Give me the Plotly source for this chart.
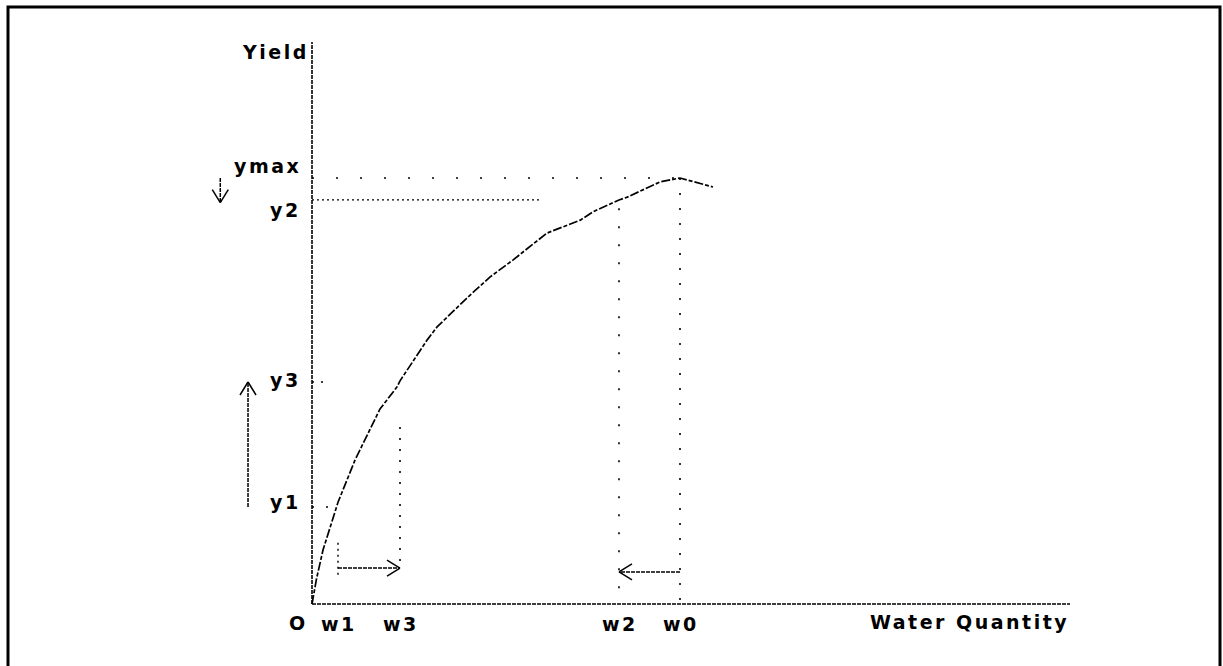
import math
import plotly.graph_objects as go

# ---------------- data (conceptual units: 0..100 on both axes) ----------------
curve_x = [0.0, 0.6, 1.45, 3.43, 5.67, 8.97, 11.2, 11.61, 15.2, 16.5, 20.4, 23.5,
           26.5, 31.0, 35.4, 37.1, 40.5, 41.6, 45.9, 48.55, 52.9]
curve_y = [0.0, 4.5, 9.6, 18.1, 25.6, 34.7, 38.6, 39.7, 47.0, 49.3, 54.4, 58.2,
           61.2, 66.0, 68.3, 69.8, 71.9, 72.4, 75.1, 75.8, 74.2]

x_tick_labels = ["w1", "w3", "w2", "w0"]
x_tick_values = [3.43, 11.61, 40.5, 48.55]
y_tick_labels = ["ymax", "y2", "y3", "y1"]
y_tick_values = [75.8, 71.9, 39.5, 17.26]

origin_label = "O"
x_title = "Water Quantity"
y_title = "Yield"
axis_max = [100.0, 100.0]

w1, w3, w2, w0 = x_tick_values
ymax, y2, y3, y1 = y_tick_values

# ---------------- layout / style constants ----------------
W, H = 1223, 666
OX, OY = 312, 604          # origin pixel
SX, SY = 7.58, 5.62        # pixels per unit
XR = [-OX / SX, (W - OX) / SX]
YR = [(OY - H) / SY, OY / SY]
FONT = dict(family="DejaVu Sans, Liberation Sans, Arial, sans-serif", size=19,
            color="black", weight="bold")
LS = "letter-spacing:2.5px"

fig = go.Figure()

def seg(xs, ys, dash, width=1.4, color="black"):
    fig.add_trace(go.Scatter(x=xs, y=ys, mode="lines", hoverinfo="skip",
                             line=dict(color=color, width=width, dash=dash),
                             showlegend=False))

# axes
seg([0, 0], [0, axis_max[1]], "4px,1px", 1.6)
seg([0, axis_max[0]], [0, 0], "4px,1px", 1.6)

# reference lines
seg([0, w0], [ymax, ymax], "2px,22px", 1.6)
seg([0, 30.0], [y2, y2], "2px,3px", 1.4)
seg([w0, w0], [ymax, 0], "2px,13px", 1.6)
seg([w2, w2], [y2 - 1.5, 0], "2px,16px", 1.6)
seg([w3, w3], [31.5, 7.0], "2px,9px", 1.6)
seg([w1, w1], [10.9, 4.6], "2px,4px", 1.4)
seg([0, 1.6], [y3, y3], "2px,7px", 1.4)
seg([0, 2.5], [y1, y1], "2px,12px", 1.4)

# curve
seg(curve_x, curve_y, "9px,2px,4px,2px", 1.7)

# arrows: (x_from, y_from, x_to, y_to)
arrows = [
    (w1, 6.4, w3, 6.4),
    (w0, 5.7, w2, 5.7),
    (-8.44, y1, -8.44, y3),
    (-12.1, ymax, -12.1, y2 - 0.5),
]
for (xa, ya, xb, yb) in arrows:
    seg([xa, xb], [ya, yb], "4px,1px", 1.5)
    dxp, dyp = (xb - xa) * SX, (yb - ya) * SY
    L = math.hypot(dxp, dyp)
    ux, uy = dxp / L, dyp / L
    hl, hw = 13, 8
    for s in (1, -1):
        px = -ux * hl + s * (-uy) * hw
        py = -uy * hl + s * ux * hw
        seg([xb, xb + px / SX], [yb, yb + py / SY], "solid", 1.5)

# labels
def sp(t):
    return f'<span style="{LS}">{t}</span>'

ann = []
ann.append(dict(x=0, y=axis_max[1], text=sp(y_title),
                xanchor="right", yanchor="top", xshift=-1, yshift=3))
ann.append(dict(x=0, y=0, text=origin_label, xanchor="center", yanchor="middle",
                xshift=-15, yshift=-19))
for v, t in zip(x_tick_values, x_tick_labels):
    ann.append(dict(x=v, y=0, text=sp(t),
                    xanchor="center", yanchor="middle", xshift=1, yshift=-20))
ann.append(dict(x=axis_max[0], y=0, text=sp(x_title),
                xanchor="right", yanchor="middle", xshift=1, yshift=-18))
y_shifts = [12, -10, 2, 5]
for v, t, ys in zip(y_tick_values, y_tick_labels, y_shifts):
    ann.append(dict(x=0, y=v, text=sp(t),
                    xanchor="right", yanchor="middle", xshift=-9, yshift=ys))
for a in ann:
    a.update(xref="x", yref="y", showarrow=False, font=FONT)

fig.update_layout(
    width=W, height=H,
    margin=dict(l=0, r=0, t=0, b=0),
    paper_bgcolor="white", plot_bgcolor="white",
    xaxis=dict(range=XR, visible=False, fixedrange=True),
    yaxis=dict(range=YR, visible=False, fixedrange=True),
    annotations=ann,
    shapes=[dict(type="rect", xref="paper", yref="paper",
                 x0=8 / W, x1=1220 / W, y0=-0.05, y1=1 - 7 / H,
                 line=dict(color="black", width=3), fillcolor="rgba(0,0,0,0)")],
)

fig.write_html("out.html", config={"displayModeBar": False},
               post_script="document.body.style.margin='0';document.body.style.overflow='hidden';")
